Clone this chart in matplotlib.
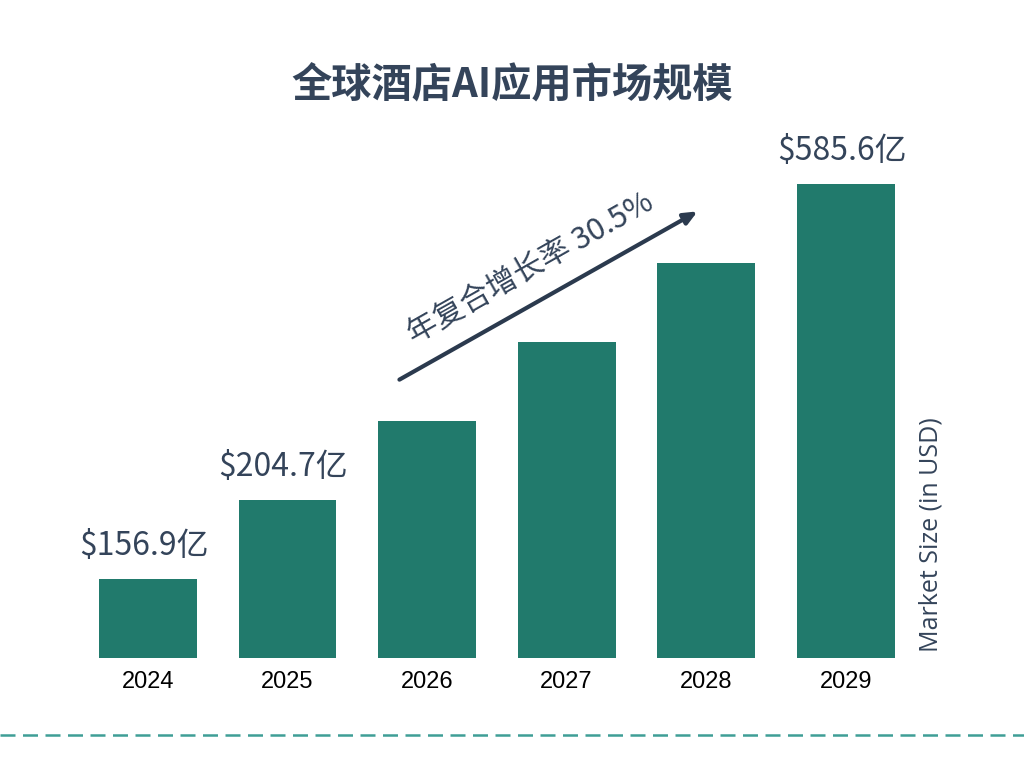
import matplotlib.pyplot as plt

plt.rcParams['font.family'] = ['Noto Sans CJK SC', 'DejaVu Sans']

# data
years = ['2024', '2025', '2026', '2027', '2028', '2029']
bar_heights = [1, 2, 3, 4, 5, 6]          # bars grow in equal steps
value_labels = ['$156.9亿', '$204.7亿', None, None, None, '$585.6亿']
title = '全球酒店AI应用市场规模'
cagr_text = '年复合增长率 30.5%'
side_label = 'Market Size (in USD)'

bar_color = '#217a6c'
text_color = '#34445a'
arrow_color = '#2b3a4e'

fig = plt.figure(figsize=(10.24, 7.68), dpi=100)
fig.patch.set_facecolor('white')
ax = fig.add_axes([0.0762, 0.1432, 0.818, 0.72])

x = list(range(len(years)))
ax.bar(x, bar_heights, width=0.7, color=bar_color)
ax.set_xlim(-0.5, len(years) - 0.5)
ax.set_ylim(0, 7)

for xi, h, lab in zip(x, bar_heights, value_labels):
    if lab:
        ax.text(xi - 0.03, h + 0.22, lab, ha='center', va='bottom', fontsize=23,
                color=text_color)

ax.set_xticks(x)
ax.set_xticklabels(years, fontsize=17, family='Liberation Sans', color='black')
ax.tick_params(axis='x', length=0, pad=9)
ax.set_yticks([])
for s in ax.spines.values():
    s.set_visible(False)

fig.text(0.5, 0.888, title, ha='center', va='center', fontsize=29,
         fontweight='bold', color=text_color)

# CAGR arrow and text
ax.annotate('', xy=(700 / 1024, 1 - 210 / 768), xytext=(397 / 1024, 1 - 381 / 768),
            xycoords='figure fraction', textcoords='figure fraction',
            annotation_clip=False,
            arrowprops=dict(arrowstyle='-|>,head_length=0.8,head_width=0.35',
                            color=arrow_color, lw=3))
fig.text(530 / 1024, 1 - 268 / 768, cagr_text, ha='center', va='center',
         rotation=29.5, rotation_mode='anchor', fontsize=22, color=text_color)

fig.text(931 / 1024, 1 - 652 / 768, side_label, ha='center', va='bottom',
         rotation=90, fontsize=18, color=text_color, family='Open Sans')

# dashed separator at the bottom
fig.add_artist(plt.Line2D([0, 1], [1 - 735 / 768] * 2, transform=fig.transFigure,
                          color='#3f9e96', lw=1.8, linestyle=(0, (6, 3))))

fig.savefig('out.png', dpi=100)
